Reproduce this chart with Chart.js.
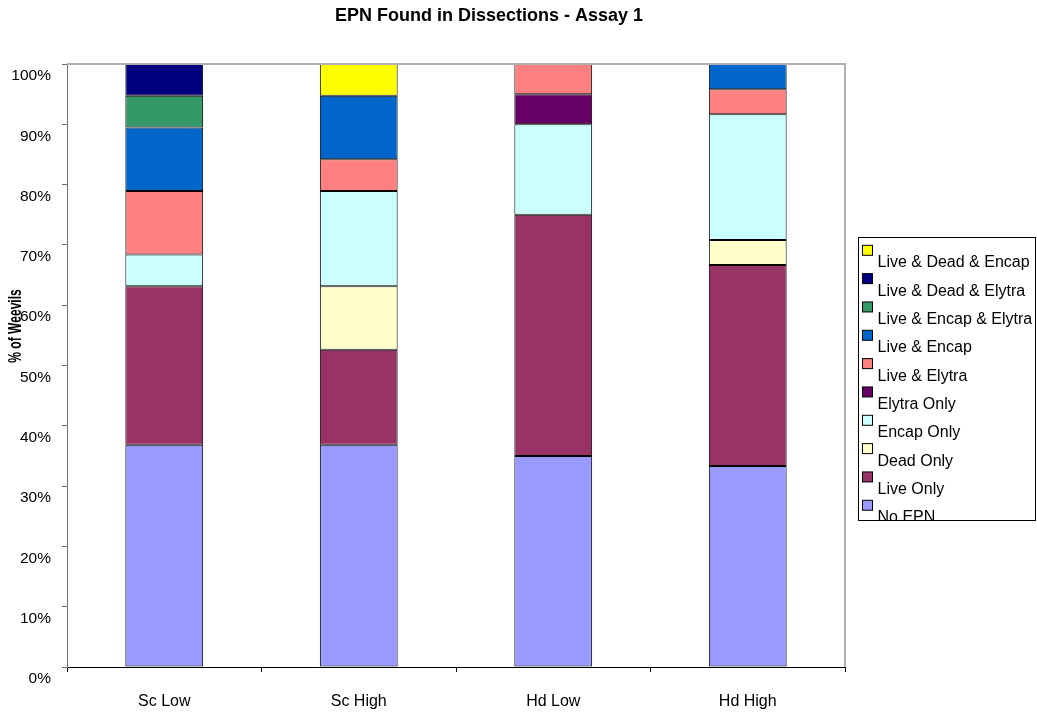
<!DOCTYPE html>
<html>
<head>
<meta charset="utf-8">
<style>
  html, body { margin: 0; padding: 0; background: #ffffff; }
  #wrap { width: 1037px; height: 715px; }
</style>
<script src="https://cdn.jsdelivr.net/npm/chart.js@4/dist/chart.umd.min.js"></script>
</head>
<body>
<div id="wrap"><canvas id="chart" width="1037" height="715"></canvas></div>
<script>
// Treatment groups along the x axis
const categories = ['Sc Low', 'Sc High', 'Hd Low', 'Hd High'];

// Percentage of weevils in each dissection outcome, per group
const noEpn            = [36.84, 36.84, 35.00, 33.33];
const liveOnly         = [26.32, 15.79, 40.00, 33.33];
const deadOnly         = [0,     10.53, 0,     4.17];
const encapOnly        = [5.26,  15.79, 15.00, 20.83];
const elytraOnly       = [0,     0,     5.00,  0];
const liveElytra       = [10.53, 5.26,  5.00,  4.17];
const liveEncap        = [10.53, 10.53, 0,     4.17];
const liveEncapElytra  = [5.26,  0,     0,     0];
const liveDeadElytra   = [5.26,  0,     0,     0];
const liveDeadEncap    = [0,     5.26,  0,     0];

// Y axis tick values
const yTicks = [0, 10, 20, 30, 40, 50, 60, 70, 80, 90, 100];

const chartTitle = 'EPN Found in Dissections - Assay 1';
const yAxisTitle = '% of Weevils';

const FONT = '"Liberation Sans", Arial, Helvetica, sans-serif';

// Stack order: bottom segment first
const series = [
  { label: 'No EPN',                data: noEpn,           color: '#9999FF' },
  { label: 'Live Only',             data: liveOnly,        color: '#993366' },
  { label: 'Dead Only',             data: deadOnly,        color: '#FFFFCC' },
  { label: 'Encap Only',            data: encapOnly,       color: '#CCFFFF' },
  { label: 'Elytra Only',           data: elytraOnly,      color: '#660066' },
  { label: 'Live & Elytra',         data: liveElytra,      color: '#FF8080' },
  { label: 'Live & Encap',          data: liveEncap,       color: '#0066CC' },
  { label: 'Live & Encap & Elytra', data: liveEncapElytra, color: '#339966' },
  { label: 'Live & Dead & Elytra',  data: liveDeadElytra,  color: '#000080' },
  { label: 'Live & Dead & Encap',   data: liveDeadEncap,   color: '#FFFF00' }
];

const datasets = series.map(s => ({
  label: s.label,
  data: s.data,
  backgroundColor: s.color,
  borderColor: '#000000',
  borderWidth: 1,
  borderSkipped: false,
  barPercentage: 0.4,
  categoryPercentage: 1.0
}));

// Title, rotated axis title, plot frame and boxed legend
const decorations = {
  id: 'decorations',
  afterDraw(chart) {
    const ctx = chart.ctx;
    const area = chart.chartArea;

    // plot frame (top and right edges)
    ctx.save();
    ctx.strokeStyle = '#b0b0b0';
    ctx.lineWidth = 2;
    ctx.beginPath();
    ctx.moveTo(area.left, area.top);
    ctx.lineTo(area.right, area.top);
    ctx.lineTo(area.right, area.bottom);
    ctx.stroke();
    ctx.restore();

    // chart title
    ctx.save();
    ctx.fillStyle = '#000000';
    ctx.font = 'bold 18px ' + FONT;
    ctx.textAlign = 'center';
    ctx.textBaseline = 'alphabetic';
    ctx.fillText(chartTitle, 489, 21);
    ctx.restore();

    // y axis title (condensed along its reading direction)
    ctx.save();
    ctx.fillStyle = '#000000';
    ctx.font = 'bold 18px ' + FONT;
    ctx.translate(16, 326);
    ctx.rotate(-Math.PI / 2);
    ctx.scale(0.67, 1);
    ctx.textAlign = 'center';
    ctx.textBaseline = 'middle';
    ctx.fillText(yAxisTitle, 0, 0);
    ctx.restore();

    // legend box
    const box = { x: 858, y: 237, w: 178, h: 284 };
    ctx.save();
    ctx.fillStyle = '#ffffff';
    ctx.fillRect(box.x, box.y, box.w, box.h);
    ctx.beginPath();
    ctx.rect(box.x, box.y, box.w, box.h);
    ctx.clip();
    ctx.font = '16px ' + FONT;
    ctx.textAlign = 'left';
    ctx.textBaseline = 'alphabetic';
    const rows = series.slice().reverse();
    rows.forEach((s, i) => {
      const base = 267.3 + i * 28.33;
      ctx.fillStyle = s.color;
      ctx.fillRect(862.5, base - 22, 10, 10);
      ctx.strokeStyle = '#000000';
      ctx.lineWidth = 1;
      ctx.strokeRect(862.5, base - 22, 10, 10);
      ctx.fillStyle = '#000000';
      ctx.fillText(s.label, 877.5, base);
    });
    ctx.restore();
    ctx.save();
    ctx.strokeStyle = '#000000';
    ctx.lineWidth = 1;
    ctx.strokeRect(box.x + 0.5, box.y + 0.5, box.w - 1, box.h - 1);
    ctx.restore();
  }
};

new Chart(document.getElementById('chart'), {
  type: 'bar',
  data: { labels: categories, datasets: datasets },
  options: {
    responsive: false,
    animation: false,
    devicePixelRatio: 1,
    layout: { padding: { left: 0, right: 192, top: 64, bottom: 0 } },
    plugins: {
      legend: { display: false },
      title: { display: false },
      tooltip: { enabled: false }
    },
    scales: {
      x: {
        stacked: true,
        grid: {
          display: true,
          drawOnChartArea: false,
          drawTicks: true,
          tickLength: 5,
          tickColor: '#000000',
          offset: true
        },
        border: { display: true, color: '#000000', width: 1 },
        ticks: {
          color: '#000000',
          font: { family: FONT, size: 16 },
          padding: 20,
          maxRotation: 0
        },
        afterFit(scale) { scale.height = 48; }
      },
      y: {
        stacked: true,
        min: 0,
        max: 100,
        afterBuildTicks(scale) { scale.ticks = yTicks.map(v => ({ value: v })); },
        grid: {
          display: true,
          drawOnChartArea: false,
          drawTicks: true,
          tickLength: 5,
          tickColor: '#707070'
        },
        border: { display: true, color: '#707070', width: 1 },
        ticks: {
          color: '#000000',
          font: { family: FONT, size: 15.5 },
          padding: 11,
          labelOffset: 12,
          callback: v => v + '%'
        },
        afterFit(scale) { scale.width = 67; }
      }
    }
  },
  plugins: [decorations]
});
</script>
</body>
</html>
